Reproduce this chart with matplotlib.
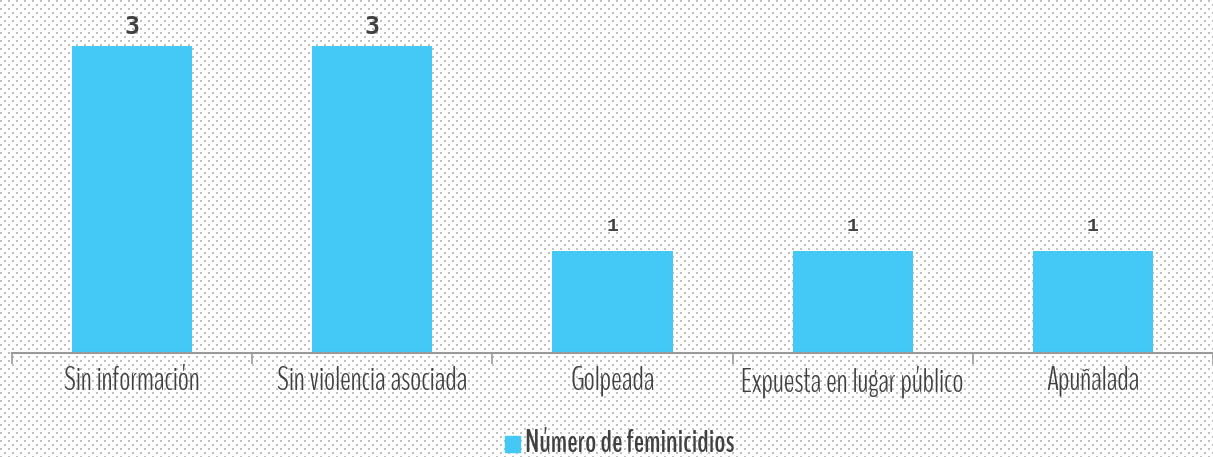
import numpy as np
import matplotlib
matplotlib.use("Agg")
import matplotlib.pyplot as plt
from matplotlib.patches import Rectangle

categories = ["Sin información", "Sin violencia asociada", "Golpeada",
              "Expuesta en lugar público", "Apuñalada"]
values = [3, 3, 1, 1, 1]
series_name = "Número de feminicidios"

W, H = 1213, 457
DPI = 100
fig = plt.figure(figsize=(W / DPI, H / DPI), dpi=DPI)

# dotted background
yy, xx = np.mgrid[0:H, 0:W]
dots = ((yy % 4) < 2) & (((xx + 4 * ((yy // 4) % 2)) % 8) < 2)
bg = np.ones((H, W, 3))
bg[dots] = np.array([192, 192, 192]) / 255.0
fig.figimage(bg, 0, 0, zorder=-10)

narrow = ["BenchNine", "Oswald", "DejaVu Sans"]
dark = "#404040"
bar_color = "#44c8f5"

left, right = 12, 1213
bottom_px = 353
ax = fig.add_axes([left / W, (H - bottom_px) / H, (right - left) / W, bottom_px / H])
ax.set_zorder(1)
ax.patch.set_alpha(0)
n = len(categories)
x = np.arange(n)
ax.bar(x, values, width=0.5, color=bar_color, zorder=2)
ax.set_xlim(-0.5, n - 0.5)
ax.set_ylim(0, bottom_px / 102.5)

for spine in ["top", "right", "left"]:
    ax.spines[spine].set_visible(False)
ax.spines["bottom"].set_color("#999999")
ax.spines["bottom"].set_linewidth(1.5)
ax.set_yticks([])
ax.set_xticks(np.arange(n + 1) - 0.5, minor=False)
ax.set_xticklabels([])
ax.tick_params(axis="x", which="major", length=8, width=1.2, color="#999999")
ax.set_xticks(x, minor=True)
ax.set_xticklabels(categories, minor=True, fontsize=23.5, family=narrow,
                   fontweight="light", color=dark)
ax.tick_params(axis="x", which="minor", length=0, pad=9)

for xi, v in zip(x, values):
    if v >= 3:
        ax.text(xi, v + 0.06, str(v), ha="center", va="bottom", fontsize=18,
                family=["DejaVu Sans Mono"], fontweight="bold", color=dark)
    else:
        ax.text(xi, v + 0.15, str(v), ha="center", va="bottom", fontsize=14,
                family=["Liberation Mono"], fontweight="bold", color=dark)

# legend
fig.add_artist(Rectangle((505 / W, (H - 452) / H), 15 / W, 16 / H,
                         transform=fig.transFigure, color=bar_color))
fig.text(525 / W, (H - 443) / H, series_name, ha="left", va="center",
         fontsize=22, family=narrow, fontweight="bold", color=dark)

fig.savefig("out.png", dpi=DPI)
